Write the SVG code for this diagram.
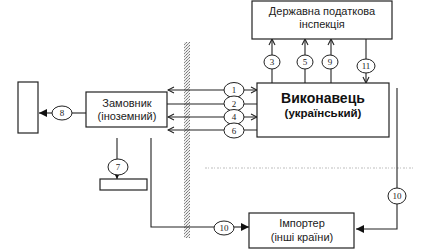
<svg xmlns="http://www.w3.org/2000/svg" width="423" height="249" viewBox="0 0 423 249">
<style>
.box{fill:#fff;stroke:#222;stroke-width:1.2}
.ln{fill:none;stroke:#222;stroke-width:1.1}
.c{fill:#fff;stroke:#222;stroke-width:1}
.t{font-family:"Liberation Sans",Arial,sans-serif;font-size:11px;fill:#222;text-anchor:middle}
.b{font-family:"Liberation Sans",Arial,sans-serif;font-weight:bold;fill:#111;text-anchor:middle}
.n{font-family:"Liberation Serif","Times New Roman",serif;font-size:9px;fill:#222;text-anchor:middle}
</style>
<defs>
<pattern id="hatch" width="3" height="3" patternUnits="userSpaceOnUse">
<rect width="3" height="3" fill="#eee"/>
<rect width="1" height="1" fill="#777"/>
<rect x="2" y="1" width="1" height="1" fill="#999"/>
<rect x="1" y="2" width="1" height="1" fill="#888"/>
</pattern>
<marker id="open" markerWidth="8" markerHeight="8" refX="7" refY="4" orient="auto-start-reverse" markerUnits="userSpaceOnUse">
<path d="M1,1 L7,4 L1,7" fill="none" stroke="#222" stroke-width="1.1"/>
</marker>
<marker id="fill" markerWidth="9" markerHeight="8" refX="8" refY="4" orient="auto" markerUnits="userSpaceOnUse">
<path d="M0,0 L8,4 L0,8 Z" fill="#111"/>
</marker>
</defs>
<rect width="423" height="249" fill="#fff"/>
<rect x="184" y="42" width="6" height="196" fill="url(#hatch)"/>
<line x1="205" y1="168" x2="413" y2="168" stroke="#d4d4d4" stroke-width="1.5" stroke-dasharray="2 1 1 2"/>
<g id="connectors">
<line class="ln" x1="86" y1="113" x2="72" y2="113"/>
<line class="ln" x1="52" y1="113" x2="39" y2="113" marker-end="url(#fill)"/>
<line class="ln" x1="117" y1="138" x2="117" y2="159"/>
<line class="ln" x1="117" y1="175" x2="117" y2="179" marker-end="url(#fill)"/>
<polyline class="ln" points="151,138 151,227 214,227"/>
<line class="ln" x1="234" y1="227" x2="249" y2="227" marker-end="url(#fill)"/>
<line class="ln" x1="168" y1="90" x2="257" y2="90" marker-start="url(#open)" marker-end="url(#open)"/>
<line class="ln" x1="167" y1="104" x2="257" y2="104"/>
<line class="ln" x1="168" y1="117" x2="257" y2="117" marker-start="url(#open)" marker-end="url(#open)"/>
<line class="ln" x1="168" y1="130" x2="257" y2="130" marker-start="url(#open)"/>
<line class="ln" x1="272" y1="83" x2="272" y2="39" marker-end="url(#open)"/>
<line class="ln" x1="305" y1="83" x2="305" y2="39" marker-end="url(#open)"/>
<line class="ln" x1="331" y1="83" x2="331" y2="39" marker-end="url(#open)"/>
<line class="ln" x1="366" y1="39" x2="366" y2="83" marker-end="url(#open)"/>
<polyline class="ln" points="397,88 397,229 356,229" marker-end="url(#fill)"/>
<ellipse class="c" cx="62" cy="113" rx="10" ry="7"/><text class="n" x="62" y="116">8</text>
<ellipse class="c" cx="118" cy="167" rx="10" ry="8"/><text class="n" x="118" y="170">7</text>
<ellipse class="c" cx="224" cy="228" rx="10" ry="7"/><text class="n" x="224" y="231">10</text>
<ellipse class="c" cx="234" cy="90" rx="10" ry="7.5"/><text class="n" x="234" y="93">1</text>
<ellipse class="c" cx="234" cy="103.5" rx="10" ry="7.5"/><text class="n" x="234" y="106.5">2</text>
<ellipse class="c" cx="234" cy="117" rx="10" ry="7.5"/><text class="n" x="234" y="120">4</text>
<ellipse class="c" cx="234" cy="130.5" rx="10" ry="7.5"/><text class="n" x="234" y="133.5">6</text>
<ellipse class="c" cx="272" cy="62" rx="8" ry="7"/><text class="n" x="272" y="65">3</text>
<ellipse class="c" cx="305" cy="62" rx="8" ry="7"/><text class="n" x="305" y="65">5</text>
<ellipse class="c" cx="330" cy="62" rx="8" ry="7"/><text class="n" x="330" y="65">9</text>
<ellipse class="c" cx="366" cy="66" rx="9" ry="7"/><text class="n" x="366" y="69">11</text>
<ellipse class="c" cx="397" cy="196" rx="9" ry="8"/><text class="n" x="397" y="199">10</text>
</g>
<g id="left-box"><rect class="box" x="18" y="82" width="20" height="51"/></g>
<g id="zamovnyk"><rect class="box" x="86" y="92" width="81" height="35"/>
<text class="t" x="127" y="107">Замовник</text><text class="t" x="127" y="120">(іноземний)</text></g>
<g id="small-box"><rect class="box" x="100" y="179" width="47" height="11"/></g>
<g id="inspection"><rect class="box" x="252" y="1" width="140" height="38"/>
<text class="t" x="322" y="15">Державна податкова</text><text class="t" x="322" y="28">інспекція</text></g>
<g id="vykonavets"><rect class="box" x="257" y="83" width="132" height="54"/>
<text class="b" x="323" y="103" font-size="14">Виконавець</text><text class="b" x="323" y="117" font-size="11.5">(український)</text></g>
<g id="importer"><rect class="box" x="249" y="213" width="105" height="35"/>
<text class="t" x="302" y="227">Імпортер</text><text class="t" x="302" y="241">(інші країни)</text></g>
</svg>
